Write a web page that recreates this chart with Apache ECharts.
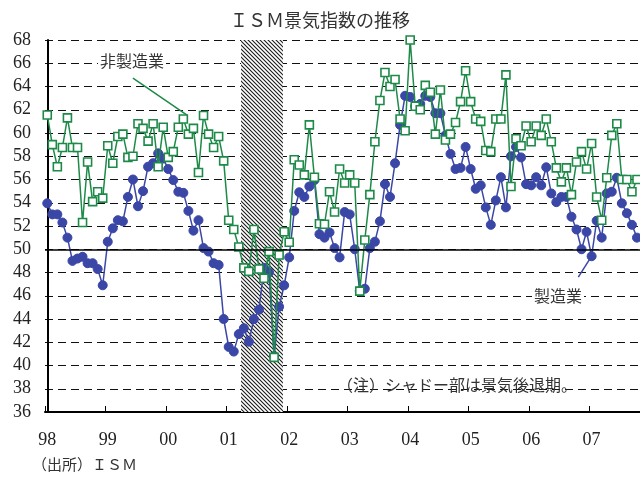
<!DOCTYPE html>
<html>
<head>
<meta charset="utf-8">
<script src="https://cdn.jsdelivr.net/npm/echarts@6/dist/echarts.min.js"></script>
<style>
html,body{margin:0;padding:0;background:#fff;}
#chart{width:640px;height:480px;}
</style>
</head>
<body>
<div id="chart"></div>
<script>
// Monthly data, Jan 1998 - Oct 2007
var yearLabels = ['98','99','00','01','02','03','04','05','06','07'];
var yTicks = [36,38,40,42,44,46,48,50,52,54,56,58,60,62,64,66,68];

var manufacturing = [
  53.95, 53.0, 53.0, 52.3, 51.0, 49.0, 49.2, 49.35, 48.8, 48.8, 48.3, 46.9,
  50.65, 51.8, 52.5, 52.4, 54.5, 56.0, 53.7, 55.0, 57.1, 57.4, 58.25, 57.8,
  56.9, 55.95, 54.95, 54.85, 53.3, 51.6, 52.5, 50.1, 49.8, 48.8, 48.65, 44.0,
  41.6, 41.2, 42.7, 43.2, 42.05, 44.0, 44.8, 48.4, 48.0, 40.8, 45.05, 46.9,
  49.3, 53.3, 54.9, 54.5, 55.4, 55.95, 51.3, 51.0, 51.45, 50.1, 49.3, 53.2,
  53.0, 50.0, 46.4, 46.6, 50.1, 50.65, 52.4, 55.6, 54.5, 57.4, 60.7, 63.2,
  63.1, 62.3, 62.5, 63.2, 63.1, 61.7, 61.7, 59.8, 58.2, 56.9, 57.0, 58.8,
  56.9, 55.2, 55.5, 53.6, 52.1, 54.2, 56.2, 53.6, 58.0, 58.8, 57.9, 55.6,
  55.5, 56.2, 55.5, 57.05, 54.8, 54.05, 54.5, 54.5, 52.8, 51.7, 50.0, 51.5,
  49.4, 52.45, 51.0, 54.8, 54.95, 56.15, 53.95, 53.1, 52.1, 51.0
];

var nonManufacturing = [
  61.55, 59.0, 57.1, 58.75, 61.3, 58.75, 58.75, 52.3, 57.5, 54.1, 54.95, 54.4,
  58.9, 57.4, 59.7, 59.9, 57.9, 58.0, 60.8, 60.4, 59.3, 60.8, 57.1, 60.5,
  57.9, 58.4, 60.5, 61.2, 59.9, 60.4, 56.6, 61.5, 59.9, 58.75, 59.7, 57.6,
  52.5, 51.7, 50.2, 48.4, 48.1, 51.7, 48.3, 47.5, 49.8, 40.7, 49.5, 51.5,
  50.6, 57.7, 57.25, 56.4, 60.7, 56.2, 52.2, 52.15, 54.95, 53.2, 56.9, 55.7,
  56.4, 55.7, 46.4, 50.8, 54.7, 59.25, 62.8, 65.2, 64.0, 64.6, 61.2, 60.2,
  68.0, 62.3, 62.0, 64.1, 63.5, 59.9, 63.7, 59.4, 59.9, 60.9, 62.7, 65.35,
  62.7, 61.2, 61.0, 58.5, 58.4, 61.2, 61.2, 65.0, 55.4, 59.5, 58.9, 60.6,
  59.25, 60.6, 59.8, 61.2, 59.25, 57.0, 55.8, 57.0, 54.7, 57.5, 58.4, 56.9,
  59.1, 54.5, 52.5, 56.15, 59.8, 60.8, 56.0, 56.0, 54.95, 56.0
];

// recession (month index range, Mar 2001 - Nov 2001)
var recessionStart = 38.45, recessionEnd = 46.75;

function toPairs(arr){ return arr.map(function(v,i){ return [i, v]; }); }

var labelValues = yearLabels.map(function(_, k){ return k*12; });
var tickValues = yearLabels.map(function(_, k){ return k*12 - 0.45; });

// hatch pattern
var pc = document.createElement('canvas');
pc.width = 4; pc.height = 4;
var ctx = pc.getContext('2d');
ctx.fillStyle = '#ffffff'; ctx.fillRect(0,0,4,4);
ctx.strokeStyle = '#1a1a1a'; ctx.lineWidth = 1.1;
ctx.beginPath();
ctx.moveTo(-1,-1); ctx.lineTo(5,5);
ctx.moveTo(-1,3); ctx.lineTo(1,5);
ctx.moveTo(3,-1); ctx.lineTo(5,1);
ctx.stroke();

var SERIF = "'Liberation Serif', 'Noto Sans CJK JP', serif";
var JP = "'Noto Sans CJK JP', 'Liberation Serif', sans-serif";
var BLUE = '#3a47a6';
var GREEN = '#1d8a48';

var chart = echarts.init(document.getElementById('chart'), null, {renderer:'canvas'});
chart.setOption({
  animation: false,
  backgroundColor: '#fff',
  title: {
    text: 'ＩＳＭ景気指数の推移',
    left: 'center', top: 6,
    textStyle: {fontFamily: JP, fontSize: 18, fontWeight: 'normal', color: '#333'}
  },
  grid: {left: 45, right: 0, top: 40, bottom: 68, containLabel: false},
  xAxis: {
    type: 'value', min: -0.45, max: 117.6,
    axisLine: {show: true, onZero: false, lineStyle: {color: '#000', width: 2}},
    axisTick: {show: true, inside: true, length: 6, customValues: tickValues, lineStyle: {color: '#000', width: 1}},
    axisLabel: {
      customValues: labelValues, margin: 19,
      fontFamily: SERIF, fontSize: 18, color: '#222',
      formatter: function(v){ return yearLabels[Math.round(v/12)] || ''; }
    },
    splitLine: {show: false}
  },
  yAxis: {
    type: 'value', min: 36, max: 68, interval: 2,
    axisLine: {show: true, lineStyle: {color: '#000', width: 2}},
    axisTick: {show: false},
    axisLabel: {margin: 14, fontFamily: SERIF, fontSize: 18, color: '#222',
      formatter: function(v){ return yTicks.indexOf(v) >= 0 ? String(v) : ''; }},
    splitLine: {show: true, lineStyle: {color: '#111', width: 1, type: [8,5]}}
  },
  series: [
    {
      name: '製造業', type: 'line', data: toPairs(manufacturing),
      symbol: 'circle', symbolSize: 9,
      lineStyle: {color: BLUE, width: 1.5},
      itemStyle: {color: BLUE, borderColor: BLUE},
      z: 3,
      markArea: {
        silent: true, z: 1,
        itemStyle: {color: {image: pc, repeat: 'repeat'}},
        data: [[{xAxis: recessionStart}, {xAxis: recessionEnd}]]
      },
      markLine: {
        silent: true, symbol: 'none', label: {show: false},
        data: [
          {yAxis: 50, lineStyle: {color: '#000', width: 1.5, type: 'solid'}},
          [{coord: [105.36, 47.6]}, {coord: [107.94, 49.36]}]
        ],
        lineStyle: {color: BLUE, width: 1.5, type: 'solid'}
      }
    },
    {
      name: '非製造業', type: 'line', data: toPairs(nonManufacturing),
      symbol: 'rect', symbolSize: 8,
      lineStyle: {color: GREEN, width: 1.5},
      itemStyle: {color: '#fff', borderColor: GREEN, borderWidth: 1.6},
      z: 4,
      markLine: {
        silent: true, symbol: 'none', label: {show: false},
        lineStyle: {color: GREEN, width: 1.5, type: 'solid'},
        data: [[{coord: [17.0, 64.73]}, {coord: [27.66, 61.55]}]]
      }
    }
  ],
  graphic: [
    {type: 'text', left: 98, top: 53, z: 10,
      style: {text: '非製造業', fontFamily: JP, fontSize: 16, fill: '#333', backgroundColor: '#fff', padding: [0,2]}},
    {type: 'text', left: 532, top: 288, z: 10,
      style: {text: '製造業', fontFamily: JP, fontSize: 16, fill: '#333', backgroundColor: '#fff', padding: [0,2]}},
    {type: 'text', left: 337, top: 377, z: 10,
      style: {text: '（注）シャドー部は景気後退期。', fontFamily: JP, fontSize: 16, fill: '#333'}},
    {type: 'text', left: 32, top: 457, z: 10,
      style: {text: '（出所）ＩＳＭ', fontFamily: JP, fontSize: 15, fill: '#333'}}
  ]
});
</script>
</body>
</html>
